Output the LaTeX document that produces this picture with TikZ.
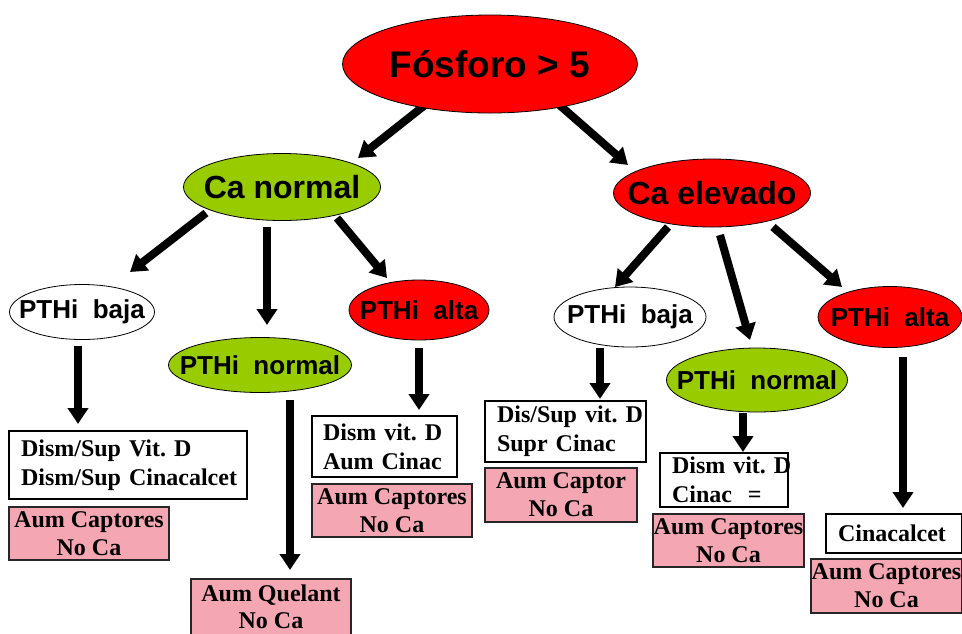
\documentclass[tikz,border=0pt]{standalone}
\usepackage{fontspec}
\setmainfont{Liberation Serif}
\setsansfont{Liberation Sans}
\usetikzlibrary{shapes.geometric,arrows.meta}
\definecolor{pk}{RGB}{244,167,178}
\definecolor{gr}{RGB}{153,204,0}
\definecolor{rd}{RGB}{255,0,0}
\frenchspacing
\begin{document}
\begin{tikzpicture}[x=1pt,y=-1pt,
  ell/.style={ellipse,draw=black,line width=0.8pt,inner sep=0pt},
  fA/.style={font=\sffamily\bfseries\fontsize{37}{40}\selectfont,inner sep=0pt},
  fB/.style={font=\sffamily\bfseries\fontsize{32}{36}\selectfont,inner sep=0pt},
  fC/.style={font=\sffamily\bfseries\fontsize{26}{30}\selectfont,inner sep=0pt},
  wbox/.style={rectangle,draw=black,line width=1.6pt,fill=white,font=\bfseries\fontsize{24}{29}\selectfont,align=left,inner ysep=0pt},
  pbox/.style={rectangle,draw=black!85,line width=1.1pt,fill=pk,font=\bfseries\fontsize{24}{28}\selectfont,align=center,inner sep=0pt},
  arr/.style={line width=8pt,-{Triangle[width=20pt 0,length=16pt 0]}}]
\useasboundingbox (0,0) rectangle (962,633);
% arrow end points
\coordinate (a1s) at (425,105); \coordinate (a1e) at (358,158);
\coordinate (a2s) at (556,102); \coordinate (a2e) at (628,165);
\coordinate (a3s) at (206,213); \coordinate (a3e) at (130,272);
\coordinate (a4s) at (267,227); \coordinate (a4e) at (267,325);
\coordinate (a5s) at (337,218); \coordinate (a5e) at (387,278);
\coordinate (a6s) at (419,348); \coordinate (a6e) at (419,410);
\coordinate (a7s) at (78,346);  \coordinate (a7e) at (78,424);
\coordinate (a8s) at (290,400); \coordinate (a8e) at (290,570);
\coordinate (a9s) at (668,227); \coordinate (a9e) at (615,287);
\coordinate (a10s) at (720,235); \coordinate (a10e) at (750,340);
\coordinate (a11s) at (773,227); \coordinate (a11e) at (842,287);
\coordinate (a12s) at (600,348); \coordinate (a12e) at (600,399);
\coordinate (a13s) at (743,413); \coordinate (a13e) at (743,452);
\coordinate (a14s) at (903,357); \coordinate (a14e) at (903,508);
\foreach \i in {1,...,14} {\draw[arr] (a\i s) -- (a\i e);}
% ellipses
\node[ell,fill=rd,minimum width=295pt,minimum height=98pt,label={[fA]center:Fósforo > 5}] (root) at (490,64) {};
\node[ell,fill=gr,minimum width=197pt,minimum height=67pt,label={[fB]center:Ca normal}] (can) at (282,187) {};
\node[ell,fill=rd,minimum width=197pt,minimum height=68pt,label={[fB]center:Ca elevado}] (cae) at (712,193) {};
\node[ell,fill=white,minimum width=145pt,minimum height=55pt,label={[fC]center:PTHi~~baja}] (bajaL) at (82,312) {};
\node[ell,fill=gr,minimum width=183pt,minimum height=55pt,label={[fC]center:PTHi~~normal}] (normL) at (260,365) {};
\node[ell,fill=rd,minimum width=140pt,minimum height=60pt,label={[fC]center:PTHi~~alta}] (altaL) at (419,310) {};
\node[ell,fill=white,minimum width=152pt,minimum height=60pt,label={[fC]center:PTHi~~baja}] (bajaR) at (630,317) {};
\node[ell,fill=gr,minimum width=181pt,minimum height=64pt,label={[fC]center:PTHi~~normal}] (normR) at (757,380) {};
\node[ell,fill=rd,minimum width=144pt,minimum height=61pt,label={[fC]center:PTHi~~alta}] (altaR) at (890,317) {};
% white boxes
\node[wbox,inner xsep=12pt,text width=214pt,minimum height=68pt] (b1) at (128,465) {\mbox{Dism/Sup Vit. D}\\\mbox{Dism/Sup Cinacalcet}};
\node[wbox,inner xsep=11pt,text width=123pt,minimum height=61pt] (b3) at (384.5,446.5) {\mbox{Dism vit. D}\\\mbox{Aum Cinac}};
\node[wbox,inner xsep=12pt,text width=137pt,minimum height=61pt] (b4) at (565.5,431.5) {\mbox{Dis/Sup vit. D}\\\mbox{Supr Cinac}};
\node[wbox,inner xsep=12pt,text width=104pt,minimum height=54pt] (b5) at (724,480) {\mbox{Dism vit. D}\\\mbox{Cinac\ \ =}};
\node[wbox,inner xsep=12pt,text width=112pt,minimum height=39pt] (b6) at (894,533.5) {\mbox{Cinacalcet}};
% pink boxes
\node[pbox,minimum width=160pt,minimum height=53pt] (p1) at (89,533.5) {Aum Captores\\No Ca};
\node[pbox,minimum width=160pt,minimum height=56pt,font=\bfseries\fontsize{24}{27}\selectfont] (p2) at (271,607) {Aum Quelant\\No Ca};
\node[pbox,minimum width=160pt,minimum height=53pt] (p3) at (392,510.5) {Aum Captores\\No Ca};
\node[pbox,minimum width=152pt,minimum height=54pt] (p4) at (561,495) {Aum Captor\\No Ca};
\node[pbox,minimum width=151pt,minimum height=53pt] (p5) at (728.5,540.5) {Aum Captores\\No Ca};
\node[pbox,minimum width=151pt,minimum height=54pt] (p6) at (886.5,586) {Aum Captores\\No Ca};
\end{tikzpicture}
\end{document}
